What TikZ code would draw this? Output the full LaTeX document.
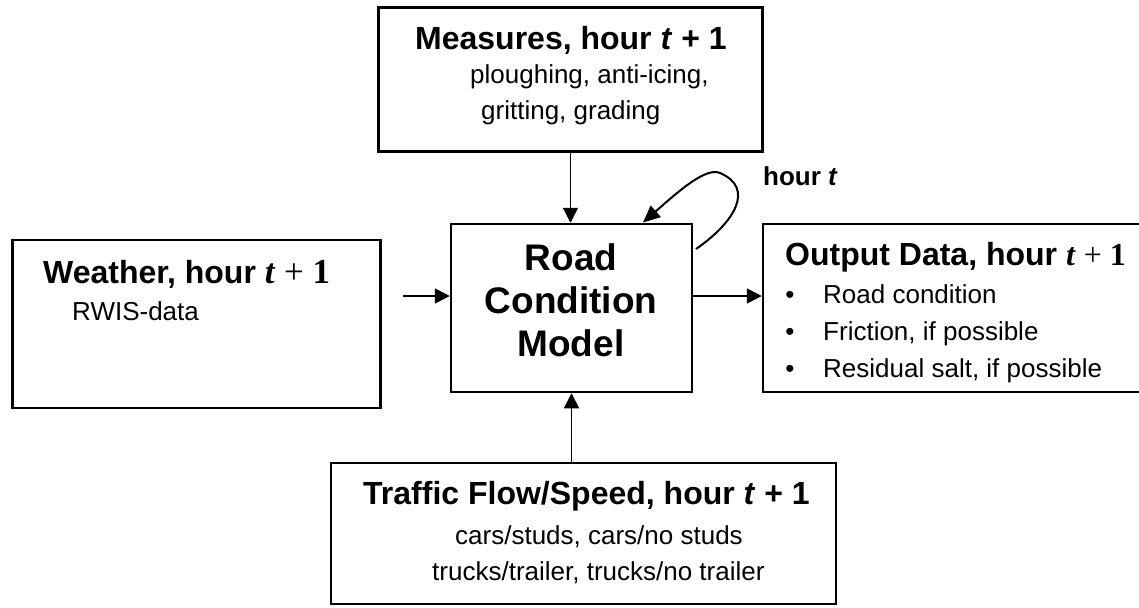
\documentclass[tikz,border=0pt]{standalone}
\usepackage{fontspec}
\setmainfont{Liberation Sans}
\newfontfamily\timesf{Liberation Serif}
\usetikzlibrary{arrows.meta}
\tikzset{
  box/.style={draw, line width=2.5pt, inner sep=0pt},
  conn/.style={line width=1.5pt, -{Triangle[length=15pt,width=15pt]}},
  loopconn/.style={line width=2pt, -{Triangle[length=17pt,width=15pt]}},
  ttl/.style={font=\fontsize{32}{38}\selectfont\bfseries, inner sep=0pt, anchor=base west},
  body/.style={font=\fontsize{26}{31}\selectfont, inner sep=0pt, anchor=base west},
  big/.style={font=\fontsize{37}{44}\selectfont\bfseries, inner sep=0pt, anchor=base},
  lbl/.style={font=\fontsize{26}{31}\selectfont\bfseries, inner sep=0pt, anchor=base west},
  bul/.style={font=\fontsize{26}{31}\selectfont, inner sep=0pt, anchor=base},
}
\begin{document}
\begin{tikzpicture}[x=1pt,y=-1pt]
\useasboundingbox (0,0) rectangle (1139,607);
\clip (0,0) rectangle (1139,607);
\fill[white] (0,0) rectangle (1139,607);
% boxes
\node[box, minimum width=384pt, minimum height=144pt] (meas) at (570.5,79.5) {};
\node[box, minimum width=368pt, minimum height=168pt] (wea) at (196.5,324) {};
\node[box, minimum width=241pt, minimum height=168pt] (road) at (571.5,308) {};
\node[box, minimum width=387pt, minimum height=168pt] (out) at (956.5,308) {};
\node[box, minimum width=505pt, minimum height=141pt] (traf) at (583.5,533.5) {};
% texts
\node[ttl] (mt) at (415,50) {Measures, hour \textit{t} + 1};
\node[body] (m1) at (470,84) {ploughing, anti-icing,};
\node[body] (m2) at (481,119) {gritting, grading};
\node[ttl] (wt) at (43,283) {Weather, hour {\fontsize{35}{38}\selectfont\timesf\textit{t} {\mdseries +} 1}};
\node[body] (w1) at (72,320) {RWIS-data};
\node[big] (r1) at (571,270) {Road};
\node[big] (r2) at (571,313) {Condition};
\node[big] (r3) at (571,356) {Model};
\node[lbl] (ht) at (763,185) {hour \textit{t}};
\node[ttl] (ot) at (785,265) {Output Data, hour {\timesf\textit{t} {\mdseries +} 1}};
\node[bul] (b1) at (790,303) {•};
\node[bul] (b2) at (790,340) {•};
\node[bul] (b3) at (790,377) {•};
\node[body] (o1) at (823,303) {Road condition};
\node[body] (o2) at (823,340) {Friction, if possible};
\node[body] (o3) at (823,377) {Residual salt, if possible};
\node[ttl] (tt) at (363,504) {Traffic Flow/Speed, hour \textit{t} + 1};
\node[body] (t1) at (455,544) {cars/studs, cars/no studs};
\node[body] (t2) at (432,580) {trucks/trailer, trucks/no trailer};
% connectors
\coordinate (win) at (403,296);
\coordinate (ls) at (696,249);
\coordinate (lt) at (720,173);
\coordinate (le) at (643,222.5);
\draw[conn] (meas.south) -- (meas.south |- road.north);
\draw[conn] (win) -- (win -| road.west);
\draw[conn] (road.east |- win) -- (out.west |- win);
\draw[conn] (road.south |- traf.north) -- (road.south);
\draw[loopconn] (ls) .. controls (735,222) and (755,188) .. (lt)
  .. controls (706,167) and (680,190) .. (le);
\end{tikzpicture}
\end{document}
